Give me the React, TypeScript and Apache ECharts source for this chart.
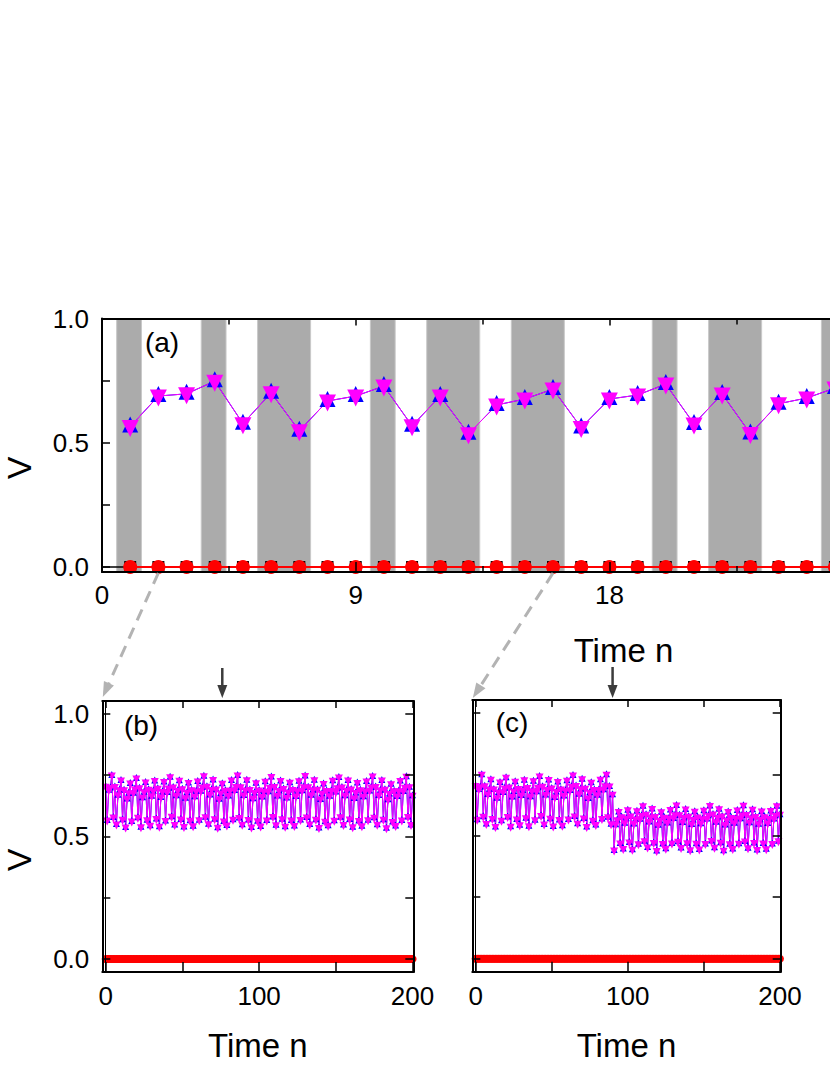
import React, { useEffect, useRef } from "react";
import * as echarts from "echarts";

// ---------- data ----------
// panel (a): time steps 1..26 visible
const stepsA = [1, 2, 3, 4, 5, 6, 7, 8, 9, 10, 11, 12, 13, 14, 15, 16, 17, 18, 19, 20, 21, 22, 23, 24, 25, 26];
const valuesA = [
  0.565, 0.688, 0.697, 0.748, 0.577, 0.701, 0.548, 0.668, 0.688, 0.728, 0.568, 0.688, 0.536,
  0.652, 0.676, 0.716, 0.561, 0.676, 0.692, 0.736, 0.576, 0.696, 0.537, 0.657, 0.68, 0.72,
];
// steps whose background is shaded grey in (a)
const shadedSteps = [1, 4, 6, 7, 10, 12, 13, 15, 16, 20, 22, 23, 26];
// the red series sits at V = 0 in all panels
const redLevel = 0;

// panels (b) and (c): time steps 0..200
const valuesB = [
  0.702,
  0.565, 0.688, 0.697, 0.748, 0.577, 0.701, 0.548, 0.668, 0.688, 0.728, 0.568, 0.688, 0.536, 0.652, 0.676, 0.716, 0.561, 0.676, 0.692, 0.736, 0.576, 0.696,
  0.537, 0.657, 0.680, 0.720, 0.566, 0.690, 0.543, 0.664, 0.684, 0.726, 0.571, 0.694, 0.539, 0.659, 0.681, 0.722, 0.563, 0.679, 0.695, 0.741, 0.580, 0.699,
  0.546, 0.666, 0.686, 0.727, 0.569, 0.692, 0.538, 0.655, 0.678, 0.718, 0.564, 0.688, 0.541, 0.662, 0.683, 0.724, 0.566, 0.684, 0.699, 0.745, 0.578, 0.702,
  0.549, 0.669, 0.689, 0.730, 0.570, 0.691, 0.535, 0.651, 0.675, 0.715, 0.561, 0.686, 0.544, 0.665, 0.686, 0.728, 0.568, 0.687, 0.701, 0.748, 0.575, 0.700,
  0.547, 0.667, 0.687, 0.729, 0.567, 0.689, 0.536, 0.653, 0.677, 0.717, 0.562, 0.687, 0.540, 0.661, 0.682, 0.723, 0.565, 0.682, 0.697, 0.742, 0.579, 0.701,
  0.545, 0.665, 0.685, 0.726, 0.570, 0.693, 0.539, 0.656, 0.679, 0.719, 0.565, 0.689, 0.542, 0.663, 0.684, 0.725, 0.567, 0.686, 0.700, 0.746, 0.577, 0.700,
  0.548, 0.668, 0.688, 0.729, 0.568, 0.690, 0.534, 0.650, 0.674, 0.714, 0.560, 0.685, 0.543, 0.664, 0.685, 0.727, 0.564, 0.681, 0.696, 0.740, 0.578, 0.699,
  0.546, 0.666, 0.686, 0.728, 0.569, 0.691, 0.537, 0.654, 0.677, 0.718, 0.563, 0.688, 0.541, 0.662, 0.683, 0.724, 0.566, 0.685, 0.699, 0.744, 0.576, 0.701,
  0.547, 0.667, 0.687, 0.728, 0.568, 0.690, 0.533, 0.649, 0.673, 0.713, 0.559, 0.684, 0.542, 0.663, 0.684, 0.726, 0.565, 0.683, 0.698, 0.743, 0.579, 0.700,
  0.546, 0.666,
];
// (c): before the stimulus it follows the same dynamics as (b); after step 90 it drops to a lower level
const stimulusStepC = 90;
const valuesCAfter = [
  0.440, 0.545, 0.563, 0.597, 0.468, 0.575, 0.446, 0.551, 0.569, 0.604, 0.472, 0.578, 0.443, 0.548, 0.566, 0.600, 0.465, 0.567, 0.580, 0.620, 0.478, 0.585,
  0.452, 0.556, 0.574, 0.609, 0.470, 0.576, 0.438, 0.543, 0.561, 0.595, 0.466, 0.573, 0.447, 0.552, 0.570, 0.605, 0.468, 0.570, 0.583, 0.623, 0.476, 0.583,
  0.450, 0.554, 0.572, 0.607, 0.469, 0.577, 0.441, 0.546, 0.564, 0.598, 0.467, 0.574, 0.444, 0.549, 0.567, 0.602, 0.466, 0.568, 0.581, 0.621, 0.479, 0.586,
  0.451, 0.555, 0.573, 0.608, 0.471, 0.578, 0.439, 0.544, 0.562, 0.596, 0.465, 0.572, 0.446, 0.551, 0.569, 0.603, 0.467, 0.569, 0.582, 0.622, 0.477, 0.584,
  0.449, 0.553, 0.571, 0.606, 0.470, 0.576, 0.442, 0.547, 0.565, 0.599, 0.468, 0.575, 0.445, 0.550, 0.568, 0.601, 0.466, 0.568, 0.581, 0.620, 0.478, 0.585,
];
const valuesC = [...valuesB.slice(0, stimulusStepC + 1), ...valuesCAfter];
const stimulusStepB = 76;

// tick labels
const yTickLabels = ["0.0", "0.5", "1.0"];
const xTickLabelsA = ["0", "9", "18"];
const xTickLabelsBC = ["0", "100", "200"];

// ---------- styling ----------
const FONT = "'Liberation Sans', Arial, Helvetica, sans-serif";
const MAGENTA = "#ff00ff";
const BLUE = "#0000ff";
const RED = "#ff0000";
const BAND = "#ababab";

const A_Y = [-0.02, 1.0];
const BC_Y = [-0.053, 1.052];
const BC_X = [-2.2, 200.5];

function yFmt(v: number) {
  const s = v.toFixed(1);
  return Math.abs(v * 2 - Math.round(v * 2)) < 1e-9 && yTickLabels.includes(s) ? s : "";
}

function xAxisCfg(gridIndex: number, position: "top" | "bottom", min: number, max: number, extra: any) {
  const bottom = position === "bottom";
  return {
    type: "value",
    gridIndex,
    position,
    min,
    max,
    z: 10,
    axisLine: { show: true, onZero: false, lineStyle: { color: "#000", width: 2 } },
    axisTick: { show: true, inside: true, length: bottom ? 10 : 7, lineStyle: { color: "#000", width: 1.5 } },
    splitLine: { show: false },
    axisLabel: { show: false },
    ...extra,
  };
}

function yAxisCfg(gridIndex: number, position: "left" | "right", min: number, max: number, showLabels: boolean) {
  return {
    type: "value",
    gridIndex,
    position,
    min,
    max,
    splitNumber: 2,
    z: 10,
    axisLine: { show: true, onZero: false, lineStyle: { color: "#000", width: 2 } },
    axisTick: { show: true, inside: true, length: 8, lineStyle: { color: "#000", width: 1.5 } },
    minorTick: { show: true, splitNumber: 2, length: 8, lineStyle: { color: "#000", width: 1.5 } },
    splitLine: { show: false },
    minorSplitLine: { show: false },
    axisLabel: showLabels
      ? { show: true, fontSize: 26, fontFamily: FONT, color: "#000", margin: 13, formatter: yFmt }
      : { show: false },
  };
}

function groupRanges(steps: number[]) {
  const ranges: [number, number][] = [];
  steps.forEach((s) => {
    const last = ranges[ranges.length - 1];
    if (last && s === last[1] + 1) last[1] = s;
    else ranges.push([s, s]);
  });
  return ranges;
}

function arrow(from: number[], to: number[], color: string, width: number, dash: number[] | null, headLen: number, headW: number) {
  const dx = to[0] - from[0];
  const dy = to[1] - from[1];
  const len = Math.hypot(dx, dy);
  const ux = dx / len;
  const uy = dy / len;
  const base = [to[0] - ux * headLen, to[1] - uy * headLen];
  const px = -uy;
  const py = ux;
  return [
    {
      type: "line",
      silent: true,
      z: 20,
      shape: { x1: from[0], y1: from[1], x2: base[0] + ux * 2, y2: base[1] + uy * 2 },
      style: { stroke: color, lineWidth: width, lineDash: dash || undefined },
    },
    {
      type: "polygon",
      silent: true,
      z: 20,
      shape: {
        points: [
          [to[0], to[1]],
          [base[0] + (px * headW) / 2, base[1] + (py * headW) / 2],
          [base[0] - (px * headW) / 2, base[1] - (py * headW) / 2],
        ],
      },
      style: { fill: color },
    },
  ];
}

export default function App() {
  const ref = useRef<HTMLDivElement>(null);

  useEffect(() => {
    if (!ref.current) return;
    const chart = echarts.init(ref.current, undefined, { renderer: "svg" });

    const stepsBC: number[] = valuesB.map((_, i) => i);
    const bands = groupRanges(shadedSteps).map(([s, e]) => [{ xAxis: s - 0.48 }, { xAxis: e + 0.4 }]);

    const tri = (color: string, size: number, down: boolean, off: number) => ({
      symbol: "triangle",
      symbolSize: size,
      symbolRotate: down ? 180 : 0,
      symbolOffset: [0, off],
      itemStyle: { color },
      lineStyle: { color, width: 1 },
    });

    const option: any = {
      animation: false,
      backgroundColor: "#ffffff",
      textStyle: { fontFamily: FONT },
      grid: [
        { left: 102, top: 318.5, width: 1043, height: 253.5, show: false, outerBoundsMode: "none", containLabel: false },
        { left: 102.3, top: 701, width: 311, height: 271, show: false, outerBoundsMode: "none", containLabel: false },
        { left: 472.3, top: 700, width: 308.4, height: 271.7, show: false, outerBoundsMode: "none", containLabel: false },
      ],
      xAxis: [
        xAxisCfg(0, "bottom", 0, 37, {
          interval: 9,
          minorTick: { show: true, splitNumber: 2, length: 6, lineStyle: { color: "#000", width: 1.5 } },
          minorSplitLine: { show: false },
          axisLabel: {
            show: true, fontSize: 26, fontFamily: FONT, color: "#000", margin: 10,
            formatter: (v: number) => (xTickLabelsA.includes(String(v)) ? String(v) : ""),
          },
          name: "Time n",
          nameLocation: "middle",
          nameGap: 62,
          nameTextStyle: { fontSize: 33, fontFamily: FONT, color: "#000" },
        }),
        xAxisCfg(0, "top", 0, 37, {
          interval: 9,
          minorTick: { show: true, splitNumber: 2, length: 6, lineStyle: { color: "#000", width: 1.5 } },
          minorSplitLine: { show: false },
        }),
        xAxisCfg(1, "bottom", BC_X[0], BC_X[1], {
          splitNumber: 4,
          axisLabel: {
            show: true, fontSize: 26, fontFamily: FONT, color: "#000", margin: 11,
            formatter: (v: number) => (xTickLabelsBC.includes(String(v)) ? String(v) : ""),
          },
          name: "Time n",
          nameLocation: "middle",
          nameGap: 57,
          nameTextStyle: { fontSize: 33, fontFamily: FONT, color: "#000" },
        }),
        xAxisCfg(1, "top", BC_X[0], BC_X[1], { splitNumber: 4 }),
        xAxisCfg(2, "bottom", BC_X[0], BC_X[1], {
          splitNumber: 4,
          axisLabel: {
            show: true, fontSize: 26, fontFamily: FONT, color: "#000", margin: 11,
            formatter: (v: number) => (xTickLabelsBC.includes(String(v)) ? String(v) : ""),
          },
          name: "Time n",
          nameLocation: "middle",
          nameGap: 57,
          nameTextStyle: { fontSize: 33, fontFamily: FONT, color: "#000" },
        }),
        xAxisCfg(2, "top", BC_X[0], BC_X[1], { splitNumber: 4 }),
      ],
      yAxis: [
        yAxisCfg(0, "left", A_Y[0], A_Y[1], true),
        yAxisCfg(0, "right", A_Y[0], A_Y[1], false),
        yAxisCfg(1, "left", BC_Y[0], BC_Y[1], true),
        yAxisCfg(1, "right", BC_Y[0], BC_Y[1], false),
        yAxisCfg(2, "left", BC_Y[0], BC_Y[1], false),
        yAxisCfg(2, "right", BC_Y[0], BC_Y[1], false),
      ],
      series: [
        // ---- panel (a) ----
        {
          name: "zero-black-a",
          type: "line",
          xAxisIndex: 0,
          yAxisIndex: 0,
          data: [{ value: [0, redLevel], symbol: "none" }, ...stepsA.map((n) => [n, redLevel])],
          symbol: "rect",
          symbolSize: 12,
          itemStyle: { color: "#000" },
          lineStyle: { color: "#000", width: 1.5 },
          markArea: { silent: true, itemStyle: { color: BAND, borderColor: "#c8c8c8", borderWidth: 1 }, data: bands },
        },
        {
          name: "red-a",
          type: "line",
          xAxisIndex: 0,
          yAxisIndex: 0,
          data: stepsA.map((n) => [n, redLevel]),
          symbol: "circle",
          symbolSize: 14,
          itemStyle: { color: RED },
          lineStyle: { color: RED, width: 2 },
        },
        {
          name: "blue-a",
          type: "line",
          xAxisIndex: 0,
          yAxisIndex: 0,
          data: stepsA.map((n, i) => [n, valuesA[i]]),
          ...tri(BLUE, 16, false, -2),
        },
        {
          name: "magenta-a",
          type: "line",
          xAxisIndex: 0,
          yAxisIndex: 0,
          data: stepsA.map((n, i) => [n, valuesA[i]]),
          ...tri(MAGENTA, 17, true, 2),
        },
        // ---- panel (b) ----
        {
          name: "axis0-b",
          type: "line",
          xAxisIndex: 2,
          yAxisIndex: 2,
          data: [],
          markLine: {
            silent: true, symbol: "none", label: { show: false },
            lineStyle: { color: "#000", width: 1, type: "solid" },
            data: [{ xAxis: 0 }],
          },
        },
        {
          name: "red-b",
          type: "line",
          xAxisIndex: 2,
          yAxisIndex: 2,
          data: stepsBC.map((n) => [n, redLevel]),
          symbol: "circle",
          symbolSize: 8,
          itemStyle: { color: RED },
          lineStyle: { color: RED, width: 2 },
        },
        {
          name: "blue-b",
          type: "line",
          xAxisIndex: 2,
          yAxisIndex: 2,
          data: stepsBC.map((n) => [n, valuesB[n]]),
          ...tri(BLUE, 7, false, -1),
        },
        {
          name: "magenta-b",
          type: "line",
          xAxisIndex: 2,
          yAxisIndex: 2,
          data: stepsBC.map((n) => [n, valuesB[n]]),
          ...tri(MAGENTA, 8, true, 1),
        },
        // ---- panel (c) ----
        {
          name: "axis0-c",
          type: "line",
          xAxisIndex: 4,
          yAxisIndex: 4,
          data: [],
          markLine: {
            silent: true, symbol: "none", label: { show: false },
            lineStyle: { color: "#000", width: 1, type: "solid" },
            data: [{ xAxis: 0 }],
          },
        },
        {
          name: "red-c",
          type: "line",
          xAxisIndex: 4,
          yAxisIndex: 4,
          data: stepsBC.map((n) => [n, redLevel]),
          symbol: "circle",
          symbolSize: 8,
          itemStyle: { color: RED },
          lineStyle: { color: RED, width: 2 },
        },
        {
          name: "blue-c",
          type: "line",
          xAxisIndex: 4,
          yAxisIndex: 4,
          data: stepsBC.map((n) => [n, valuesC[n]]),
          ...tri(BLUE, 7, false, -1),
        },
        {
          name: "magenta-c",
          type: "line",
          xAxisIndex: 4,
          yAxisIndex: 4,
          data: stepsBC.map((n) => [n, valuesC[n]]),
          ...tri(MAGENTA, 8, true, 1),
        },
      ],
    };

    chart.setOption(option);

    // annotations anchored to data coordinates
    const pa = (pt: number[]) => chart.convertToPixel({ xAxisIndex: 0, yAxisIndex: 0 }, pt) as number[];
    const pb = (pt: number[]) => chart.convertToPixel({ xAxisIndex: 2, yAxisIndex: 2 }, pt) as number[];
    const pc = (pt: number[]) => chart.convertToPixel({ xAxisIndex: 4, yAxisIndex: 4 }, pt) as number[];

    const aStart1 = pa([2, A_Y[0]]);
    const bCorner = pb([BC_X[0], BC_Y[1]]);
    const aStart2 = pa([16, A_Y[0]]);
    const cCorner = pc([BC_X[0], BC_Y[1]]);
    const bStim = pb([stimulusStepB, BC_Y[1]]);
    const cStim = pc([stimulusStepC, BC_Y[1]]);

    const GRAY = "#b3b3b3";
    const DARK = "#3c3c3c";
    const graphics: any[] = [
      ...arrow([aStart1[0], aStart1[1] + 1], [bCorner[0] + 0.5, bCorner[1] - 4], GRAY, 3, [12, 8], 15, 11),
      ...arrow([aStart2[0], aStart2[1] + 1], [cCorner[0] + 0.5, cCorner[1] - 2], GRAY, 3, [12, 8], 15, 11),
      ...arrow([bStim[0], bStim[1] - 33], [bStim[0], bStim[1] - 3], DARK, 2.5, null, 13, 10),
      ...arrow([cStim[0], cStim[1] - 33], [cStim[0], cStim[1] - 2], DARK, 2.5, null, 13, 10),
      {
        type: "text", x: 19, y: 468, rotation: Math.PI / 2, z: 20,
        style: { text: "V", font: `34px ${FONT}`, lineHeight: 34, fill: "#000", align: "center", verticalAlign: "middle" },
      },
      {
        type: "text", x: 19, y: 860, rotation: Math.PI / 2, z: 20,
        style: { text: "V", font: `34px ${FONT}`, lineHeight: 34, fill: "#000", align: "center", verticalAlign: "middle" },
      },
      {
        type: "text", x: 162, y: 342, z: 20,
        style: { text: "(a)", font: `28px ${FONT}`, fill: "#000", align: "center", verticalAlign: "middle" },
      },
      {
        type: "text", x: 141, y: 725, z: 20,
        style: { text: "(b)", font: `28px ${FONT}`, fill: "#000", align: "center", verticalAlign: "middle" },
      },
      {
        type: "text", x: 512, y: 722, z: 20,
        style: { text: "(c)", font: `28px ${FONT}`, fill: "#000", align: "center", verticalAlign: "middle" },
      },
    ];
    chart.setOption({ graphic: graphics });

    return () => chart.dispose();
  }, []);

  return (
    <div style={{ position: "absolute", left: 0, top: 0, width: 830, height: 1075, overflow: "hidden" }}>
      <div ref={ref} style={{ position: "absolute", left: 0, top: 0, width: 1160, height: 1075 }} />
    </div>
  );
}
